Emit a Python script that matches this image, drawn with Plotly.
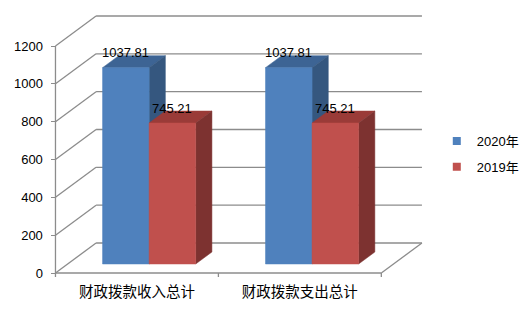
import plotly.graph_objects as go

# ---------------- data ----------------
categories = ["财政拨款收入总计", "财政拨款支出总计"]
series_names = ["2020年", "2019年"]
values_2020 = [1037.81, 1037.81]
values_2019 = [745.21, 745.21]
y_tick_values = [0, 200, 400, 600, 800, 1000, 1200]

# ---------------- styles ----------------
FRONT = ["#4F81BD", "#C0504D"]
TOP = ["#3D6494", "#9A3B38"]
SIDE = ["#35577F", "#7D3230"]
GRID = "#8C8C8C"
FONT = "Liberation Sans, Arial, Noto Sans CJK SC"

# ---------------- geometry (pixel layout of the pseudo-3D frame) ----------------
W, H = 524, 312
PX_LEFT, PX_RIGHT = 56, 385          # front plane left / right
PX_ZERO, PX_TOPV = 273, 46            # front y of 0 and of max tick
n_cat = len(categories)
ymaxv = y_tick_values[-1]
sx = (PX_RIGHT - PX_LEFT) / n_cat     # px per category unit
sy = (PX_ZERO - PX_TOPV) / ymaxv      # px per value unit
xmin, xmax = -PX_LEFT / sx, (W - PX_LEFT) / sx
ymin, ymax = -(H - PX_ZERO) / sy, PX_ZERO / sy
DX, DY = 41 / sx, 30 / sy             # depth of the frame
BW = 47 / sx                          # bar width
F0, F1 = 0.3, 0.7                     # bar depth span (fraction of frame depth)

fig = go.Figure()

def add_line(xs, ys):
    fig.add_trace(go.Scatter(x=xs, y=ys, mode="lines", line=dict(color=GRID, width=1.3),
                             hoverinfo="skip", showlegend=False))

# back wall gridlines + left wall diagonals
gx, gy, lx, ly = [], [], [], []
for v in y_tick_values:
    gx += [DX, n_cat + DX, None]
    gy += [v + DY, v + DY, None]
    lx += [0, DX, None]
    ly += [v, v + DY, None]
add_line(gx, gy)
add_line(lx, ly)
# floor right edge, front axis lines, category tick marks
add_line([n_cat, n_cat + DX], [0, DY])
add_line([0, n_cat], [0, 0])
add_line([0, 0], [0, ymaxv])
tx, ty = [], []
for i in range(n_cat + 1):
    tx += [i, i, None]
    ty += [0, -4 / sy, None]
add_line(tx, ty)

# bars
all_series = [values_2020, values_2019]
for s, vals in enumerate(all_series):
    for i, v in enumerate(vals):
        c = i + 0.5
        x0 = c - BW + s * BW + F0 * DX
        x1 = x0 + BW
        b = F0 * DY
        ddx, ddy = (F1 - F0) * DX, (F1 - F0) * DY
        # top face
        fig.add_trace(go.Scatter(
            x=[x0, x1, x1 + ddx, x0 + ddx, x0], y=[b + v, b + v, b + v + ddy, b + v + ddy, b + v],
            fill="toself", fillcolor=TOP[s], mode="lines", line=dict(color=TOP[s], width=0.5),
            hoverinfo="skip", showlegend=False))
        # side face
        fig.add_trace(go.Scatter(
            x=[x1, x1 + ddx, x1 + ddx, x1, x1], y=[b, b + ddy, b + v + ddy, b + v, b],
            fill="toself", fillcolor=SIDE[s], mode="lines", line=dict(color=SIDE[s], width=0.5),
            hoverinfo="skip", showlegend=False))
        # front face
        fig.add_trace(go.Scatter(
            x=[x0, x1, x1, x0, x0], y=[b, b, b + v, b + v, b],
            fill="toself", fillcolor=FRONT[s], mode="lines", line=dict(color=FRONT[s], width=0.5),
            hoverinfo="skip", showlegend=False))
        # data label
        fig.add_annotation(x=(x0 + x1) / 2, y=b + v + ddy + 3 / sy, text=f"{v:.2f}",
                           showarrow=False, xanchor="center", yanchor="middle",
                           font=dict(family=FONT, size=13, color="black"))

# legend entries
for s, name in enumerate(series_names):
    fig.add_trace(go.Scatter(x=[None], y=[None], mode="markers", name=name,
                             legendgroup=name,
                             marker=dict(symbol="square", size=8, color=FRONT[s])))

fig.update_layout(
    width=W, height=H, margin=dict(l=0, r=0, t=0, b=0),
    paper_bgcolor="white", plot_bgcolor="white",
    showlegend=True,
    legend=dict(x=441 / W, y=1 - 126 / H, xanchor="left", yanchor="top",
                font=dict(family=FONT, size=13, color="black"),
                tracegroupgap=6, itemwidth=30, bgcolor="rgba(0,0,0,0)"),
    xaxis=dict(range=[xmin, xmax], domain=[0, 1], anchor="free", position=(H - PX_ZERO) / H,
               showgrid=False, zeroline=False, showline=False, ticks="",
               tickvals=[i + 0.5 for i in range(n_cat)], ticktext=categories,
               tickfont=dict(family=FONT, size=14.5, color="black"), ticklabelstandoff=8,
               fixedrange=True),
    yaxis=dict(range=[ymin, ymax], domain=[0, 1], anchor="free", position=PX_LEFT / W,
               showgrid=False, zeroline=False, showline=False, ticks="outside", ticklen=4,
               tickcolor=GRID, tickvals=y_tick_values,
               tickfont=dict(family=FONT, size=13, color="black"), ticklabelstandoff=6,
               fixedrange=True),
)

fig.write_html("out.html")
